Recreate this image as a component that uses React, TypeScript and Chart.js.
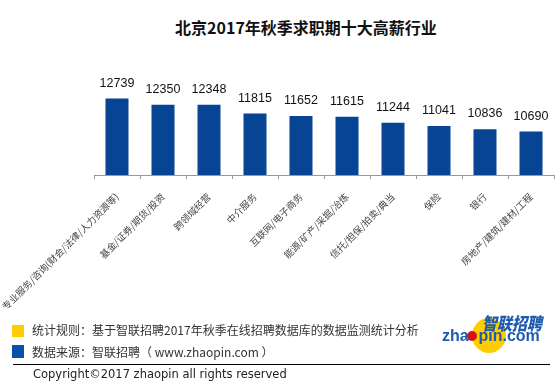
import React, { useEffect, useRef } from "react";
import { Chart, registerables } from "chart.js";

Chart.register(...registerables);

const categories: string[] = [
  "专业服务/咨询(财会/法律/人力资源等)",
  "基金/证券/期货/投资",
  "跨领域经营",
  "中介服务",
  "互联网/电子商务",
  "能源/矿产/采掘/冶炼",
  "信托/担保/拍卖/典当",
  "保险",
  "银行",
  "房地产/建筑/建材/工程",
];
const salaries: number[] = [12739, 12350, 12348, 11815, 11652, 11615, 11244, 11041, 10836, 10690];

const TITLE = "北京2017年秋季求职期十大高薪行业";
const RULE_TEXT = "统计规则：基于智联招聘2017年秋季在线招聘数据库的数据监测统计分析";
const SOURCE_TEXT = "数据来源：智联招聘（ www.zhaopin.com ）";
const COPYRIGHT = "Copyright©2017 zhaopin all rights reserved";

const valueLabels = {
  id: "valueLabels",
  afterDatasetsDraw(chart: any) {
    const ctx = chart.ctx;
    const meta = chart.getDatasetMeta(0);
    ctx.save();
    ctx.font = "12.5px 'Liberation Sans', Arial, sans-serif";
    ctx.fillStyle = "#111";
    ctx.textAlign = "center";
    ctx.textBaseline = "bottom";
    meta.data.forEach((bar: any, i: number) => {
      ctx.fillText(String(salaries[i]), bar.x, bar.y - 9);
    });
    ctx.restore();
  },
};

export default function App() {
  const ref = useRef<HTMLCanvasElement | null>(null);
  useEffect(() => {
    if (!ref.current) return;
    const chart = new Chart(ref.current, {
      type: "bar",
      data: {
        labels: categories,
        datasets: [
          {
            data: salaries,
            backgroundColor: "#074594",
            categoryPercentage: 1,
            barPercentage: 0.5,
          },
        ],
      },
      options: {
        responsive: false,
        animation: false,
        layout: { padding: { left: 94, right: 4, top: 62, bottom: 0 } },
        plugins: { legend: { display: false }, tooltip: { enabled: false }, title: { display: false } },
        scales: {
          x: {
            afterFit: (s: any) => {
              s.height = 145;
              s.paddingLeft = 0;
              s.paddingRight = 0;
            },
            grid: {
              display: true,
              drawOnChartArea: false,
              drawTicks: true,
              tickLength: 4,
              color: "#999",
              offset: true,
            },
            border: { color: "#999" },
            ticks: {
              autoSkip: false,
              minRotation: 45,
              maxRotation: 45,
              padding: 12,
              color: "#444",
              font: { family: "'Noto Sans CJK SC'", size: 9.5 },
            },
          },
          y: {
            display: false,
            min: 8000,
            max: 15000,
          },
        },
      },
      plugins: [valueLabels],
    });
    return () => chart.destroy();
  }, []);

  const cjk = "'Noto Sans CJK SC', sans-serif";
  return (
    <div style={{ position: "absolute", left: 0, top: 0, width: 558, height: 390, background: "#fff", overflow: "hidden" }}>
      <div
        style={{
          position: "absolute",
          left: 54,
          width: 504,
          top: 17,
          height: 20,
          lineHeight: "20px",
          textAlign: "center",
          fontFamily: cjk,
          fontWeight: 700,
          fontSize: 16,
          color: "#111",
          whiteSpace: "nowrap",
        }}
      >
        {TITLE}
      </div>
      <canvas ref={ref} width={558} height={320} style={{ position: "absolute", left: 0, top: 0, width: 558, height: 320 }} />
      <div style={{ position: "absolute", left: 12, top: 325, width: 12, height: 12, background: "#FFCC00" }} />
      <div style={{ position: "absolute", left: 12, top: 345, width: 12, height: 13, background: "#0A52A8" }} />
      <div style={{ position: "absolute", left: 32, top: 322, height: 16, lineHeight: "16px", fontFamily: cjk, fontSize: 12, color: "#333", whiteSpace: "nowrap" }}>
        {RULE_TEXT}
      </div>
      <div style={{ position: "absolute", left: 32, top: 344, height: 16, lineHeight: "16px", fontFamily: cjk, fontSize: 12, color: "#333", whiteSpace: "nowrap" }}>
        {SOURCE_TEXT}
      </div>
      <div style={{ position: "absolute", left: 13, top: 364, width: 537, height: 1, background: "#000" }} />
      <div style={{ position: "absolute", left: 33, top: 366, height: 16, lineHeight: "16px", fontFamily: "'DejaVu Sans', sans-serif", fontSize: 11.5, color: "#222", whiteSpace: "nowrap" }}>
        {COPYRIGHT}
      </div>
      {/* logo */}
      <div style={{ position: "absolute", left: 472, top: 318, width: 34, height: 35, borderRadius: "50%", background: "#FFCC00" }} />
      <div style={{ position: "absolute", left: 467, top: 331, width: 10, height: 10, borderRadius: "50%", background: "#D0161B" }} />
      <div
        style={{
          position: "absolute",
          left: 482,
          top: 312,
          height: 20,
          lineHeight: "20px",
          fontFamily: cjk,
          fontWeight: 900,
          fontSize: 15,
          color: "#1F5CB0",
          whiteSpace: "nowrap",
          fontStyle: "italic",
          transform: "scaleY(1.15)",
          transformOrigin: "left top",
        }}
      >
        智联招聘
      </div>
      <div
        style={{
          position: "absolute",
          left: 442,
          top: 327,
          height: 18,
          lineHeight: "18px",
          fontFamily: "'Liberation Sans', Arial, sans-serif",
          fontWeight: 700,
          fontSize: 16,
          color: "#1F5CB0",
          whiteSpace: "nowrap",
        }}
      >
        zha<span style={{ color: "transparent" }}>o</span>pin.com
      </div>
    </div>
  );
}
